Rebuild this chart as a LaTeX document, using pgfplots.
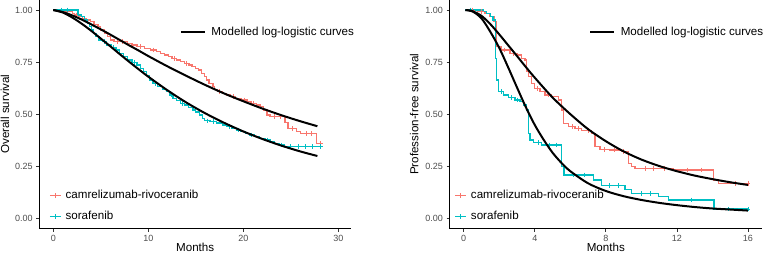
\documentclass[border=0pt]{standalone}
\usepackage{fontspec}
\setmainfont{Liberation Sans}
\usepackage{pgfplots}
\pgfplotsset{compat=1.18}
\definecolor{kmred}{HTML}{F8766D}
\definecolor{kmcyan}{HTML}{00BFC4}
\definecolor{tickgray}{HTML}{4D4D4D}
\definecolor{tickline}{HTML}{333333}
\newcommand{\legfont}{\fontsize{11.6}{13.9}\selectfont}
\pgfplotsset{
  panel/.style={
    scale only axis, height=229.1pt,
    ymin=-0.05, ymax=1.05,
    axis lines=left, axis line style={-, line width=0.9pt, black},
    tick align=outside, major tick length=3pt,
    tick style={line width=0.8pt, tickline},
    ytick={0,0.25,0.5,0.75,1}, yticklabels={0.00,0.25,0.50,0.75,1.00},
    ticklabel style={font=\fontsize{9}{10.8}\selectfont, text=tickgray},
    /pgf/number format/assume math mode=true,
    label style={font=\legfont},
    xlabel={Months},
    xlabel style={at={([yshift=-22.6pt]axis description cs:0.5,0)}, anchor=base},
    clip=false,
    legend cell align=left,
    legend style={draw=none, fill=none, inner sep=0pt, outer sep=0pt, font=\legfont, row sep=7pt, anchor=west,
      /tikz/every odd column/.append style={column sep=2pt}},
    legend image code/.code={\draw[#1] (0pt,0pt)--(11pt,0pt); \draw[#1,line width=0.8pt] (5.5pt,-2.5pt)--(5.5pt,2.5pt);},
  },
  overlay/.style={
    scale only axis, height=229.1pt, ymin=-0.05, ymax=1.05, hide axis, clip=false,
    legend style={draw=none, fill=none, inner sep=0pt, outer sep=0pt, font=\legfont, anchor=west,
      /tikz/every odd column/.append style={column sep=3.5pt}},
    legend image code/.code={\draw[#1] (0pt,0pt)--(24pt,0pt);},
  },
  km/.style={const plot, line width=1.3pt},
  cens/.style={only marks, mark=+, mark size=2.3pt, mark options={line width=0.8pt}, forget plot},
  model/.style={black, line width=2pt, smooth},
}
\begin{document}
\begin{tikzpicture}
\useasboundingbox (0,0) rectangle (764pt,253pt);
% ---------------- Left panel: overall survival ----------------
\begin{axis}[panel, at={(39.1pt,24.3pt)}, anchor=south west, width=312.2pt,
  xmin=-1.49, xmax=31.37, xtick={0,10,20,30},
  ylabel={Overall survival},
  ylabel style={at={([xshift=-34.1pt]axis description cs:0,0.5)}, anchor=center},
  legend style={at={(axis description cs:0.0327,0.0997)}}]
\addplot[km, kmred] coordinates {(0,1.000) (1.0,0.995) (2.0,0.984) (2.2,0.976) (2.7,0.968) (3.1,0.960) (3.5,0.952) (3.9,0.944) (4.3,0.932) (4.7,0.920) (5.0,0.904) (5.4,0.888) (5.7,0.872) (6.0,0.856) (6.4,0.848) (7.8,0.840) (8.3,0.832) (8.8,0.824) (9.6,0.816) (10.2,0.808) (10.9,0.800) (11.3,0.792) (11.7,0.784) (12.1,0.776) (12.5,0.768) (13.0,0.760) (13.4,0.752) (13.8,0.744) (14.3,0.736) (14.6,0.728) (15.0,0.720) (15.3,0.712) (15.6,0.696) (15.9,0.680) (16.1,0.664) (16.4,0.648) (16.8,0.632) (17.0,0.620) (17.3,0.608) (17.8,0.600) (18.2,0.592) (18.6,0.584) (19.2,0.576) (19.8,0.568) (20.4,0.560) (20.8,0.552) (21.4,0.544) (21.8,0.536) (22.1,0.520) (22.5,0.496) (22.8,0.488) (24.4,0.460) (24.7,0.432) (25.6,0.416) (26.0,0.408) (27.7,0.360) (28.1,0.360)};
\addplot[km, kmcyan] coordinates {(0,1.000) (2.6,0.976) (3.0,0.968) (3.3,0.952) (3.6,0.936) (3.8,0.920) (4.0,0.904) (4.2,0.888) (4.5,0.872) (4.8,0.856) (5.2,0.848) (5.6,0.832) (6.1,0.820) (6.6,0.808) (7.0,0.792) (7.4,0.776) (7.8,0.760) (8.3,0.748) (8.8,0.736) (9.2,0.720) (9.5,0.704) (9.8,0.684) (10.1,0.664) (10.5,0.648) (11.0,0.632) (11.5,0.620) (11.9,0.608) (12.3,0.592) (12.6,0.576) (13.0,0.564) (13.4,0.552) (13.8,0.544) (14.2,0.532) (14.7,0.520) (15.0,0.510) (15.4,0.496) (15.7,0.480) (15.9,0.468) (16.5,0.464) (17.2,0.458) (17.8,0.448) (18.3,0.440) (18.8,0.432) (19.3,0.424) (19.7,0.416) (20.2,0.408) (20.7,0.400) (21.2,0.392) (21.7,0.384) (22.3,0.376) (22.8,0.368) (23.3,0.360) (23.8,0.352) (24.3,0.344) (28.1,0.344)};
\addplot[cens, kmred] coordinates {(1.5,0.995) (2.4,0.976) (6.8,0.848) (7.3,0.848) (9.2,0.824) (10.5,0.808) (12.8,0.768) (14.0,0.744) (17.5,0.608) (19.0,0.584) (20.1,0.568) (21.1,0.552) (23.3,0.488) (23.9,0.488) (25.2,0.432) (26.6,0.408) (27.2,0.408) (28.1,0.360)};
\addplot[cens, kmcyan] coordinates {(0.9,1.0) (1.5,1.0) (5.4,0.848) (6.3,0.820) (8.5,0.748) (10.7,0.648) (12.4,0.592) (13.6,0.552) (16.2,0.468) (16.9,0.464) (18.5,0.440) (19.5,0.424) (20.9,0.400) (22.5,0.376) (24.0,0.352) (25.0,0.344) (25.8,0.344) (26.5,0.344) (27.3,0.344) (28.1,0.344)};
\legend{camrelizumab-rivoceranib, sorafenib}
\end{axis}
\begin{axis}[overlay, at={(39.1pt,24.3pt)}, anchor=south west, width=312.2pt,
  xmin=-1.49, xmax=31.37,
  legend style={at={(axis description cs:0.4513,0.8573)}}]
\addplot[model] coordinates {(0,1) (1,0.990) (2,0.974) (3,0.954) (4,0.931) (5,0.907) (6,0.882) (7,0.856) (8,0.830) (9,0.805) (10,0.779) (12,0.730) (14,0.684) (16,0.640) (18,0.599) (20,0.562) (22,0.527) (24,0.495) (26,0.466) (27.8,0.442)};
\addplot[model, forget plot] coordinates {(0,1) (1,0.988) (2,0.964) (3,0.934) (4,0.900) (5,0.863) (6,0.826) (7,0.788) (8,0.751) (9,0.715) (10,0.680) (12,0.615) (14,0.556) (16,0.504) (18,0.458) (20,0.417) (22,0.381) (24,0.349) (26,0.321) (27.8,0.299)};
\legend{Modelled log-logistic curves}
\end{axis}
% ---------------- Right panel: progression-free survival ----------------
\begin{axis}[panel, at={(449.5pt,24.3pt)}, anchor=south west, width=312.7pt,
  xmin=-0.8, xmax=16.8, xtick={0,4,8,12,16},
  ylabel={Profession-free survival},
  ylabel style={at={([xshift=-35.2pt]axis description cs:0,0.5)}, anchor=center},
  legend style={at={(axis description cs:0.0166,0.0997)}}]
\addplot[km, kmred] coordinates {(0.1,1.000) (0.8,0.992) (1.2,0.984) (1.45,0.968) (1.7,0.944) (1.86,0.824) (2.1,0.808) (2.6,0.792) (3.0,0.784) (3.26,0.768) (3.45,0.760) (3.55,0.704) (3.64,0.680) (3.83,0.648) (4.0,0.624) (4.3,0.608) (4.57,0.592) (4.95,0.584) (5.32,0.568) (5.51,0.520) (5.6,0.456) (5.9,0.440) (6.26,0.432) (6.64,0.421) (7.2,0.408) (7.39,0.344) (7.67,0.331) (8.2,0.328) (8.9,0.320) (9.26,0.264) (9.45,0.248) (9.64,0.240) (11.8,0.232) (14.07,0.184) (14.33,0.168) (16.0,0.168)};
\addplot[km, kmcyan] coordinates {(0.1,1.000) (1.1,0.992) (1.3,0.984) (1.5,0.968) (1.65,0.952) (1.8,0.768) (1.86,0.664) (1.95,0.608) (2.23,0.592) (2.51,0.581) (2.89,0.568) (3.17,0.560) (3.35,0.544) (3.55,0.520) (3.64,0.408) (3.73,0.376) (3.92,0.364) (4.39,0.352) (5.51,0.248) (5.65,0.208) (7.29,0.184) (7.77,0.157) (9.07,0.139) (9.45,0.120) (10.95,0.104) (11.51,0.088) (14.09,0.044) (16.0,0.044)};
\addplot[cens, kmred] coordinates {(0.5,1.0) (1.0,0.992) (2.3,0.808) (2.8,0.792) (4.15,0.624) (4.75,0.592) (6.1,0.440) (6.45,0.432) (7.0,0.421) (7.9,0.331) (8.5,0.328) (9.0,0.320) (10.2,0.240) (10.7,0.240) (11.3,0.240) (12.6,0.232) (13.4,0.232) (15.3,0.168) (16.0,0.168)};
\addplot[cens, kmcyan] coordinates {(0.4,1.0) (2.1,0.608) (2.7,0.581) (3.0,0.568) (4.2,0.364) (4.8,0.352) (5.2,0.352) (6.2,0.208) (6.8,0.208) (8.2,0.157) (8.7,0.157) (10.0,0.120) (10.5,0.120) (12.8,0.088) (14.9,0.044) (16.0,0.044)};
\legend{camrelizumab-rivoceranib, sorafenib}
\end{axis}
\begin{axis}[overlay, at={(449.5pt,24.3pt)}, anchor=south west, width=312.7pt,
  xmin=-0.8, xmax=16.8,
  legend style={at={(axis description cs:0.447,0.8573)}}]
\addplot[model] coordinates {(0.1,1.0) (0.5,0.994) (1,0.972) (1.5,0.932) (2,0.883) (2.5,0.831) (3,0.779) (3.5,0.726) (4,0.675) (5,0.580) (6,0.500) (7,0.428) (8,0.370) (9,0.321) (10,0.282) (11,0.251) (12,0.226) (13,0.205) (14,0.188) (15,0.173) (16,0.160)};
\addplot[model, forget plot] coordinates {(0.1,1.0) (0.5,0.993) (1,0.96) (1.5,0.895) (2,0.818) (2.5,0.725) (3,0.628) (3.5,0.533) (4,0.448) (4.5,0.377) (5,0.315) (5.5,0.266) (6,0.226) (7,0.168) (8,0.131) (9,0.106) (10,0.088) (11,0.074) (12,0.063) (13,0.054) (14,0.047) (15,0.042) (16,0.037)};
\legend{Modelled log-logistic curves}
\end{axis}
\end{tikzpicture}
\end{document}
